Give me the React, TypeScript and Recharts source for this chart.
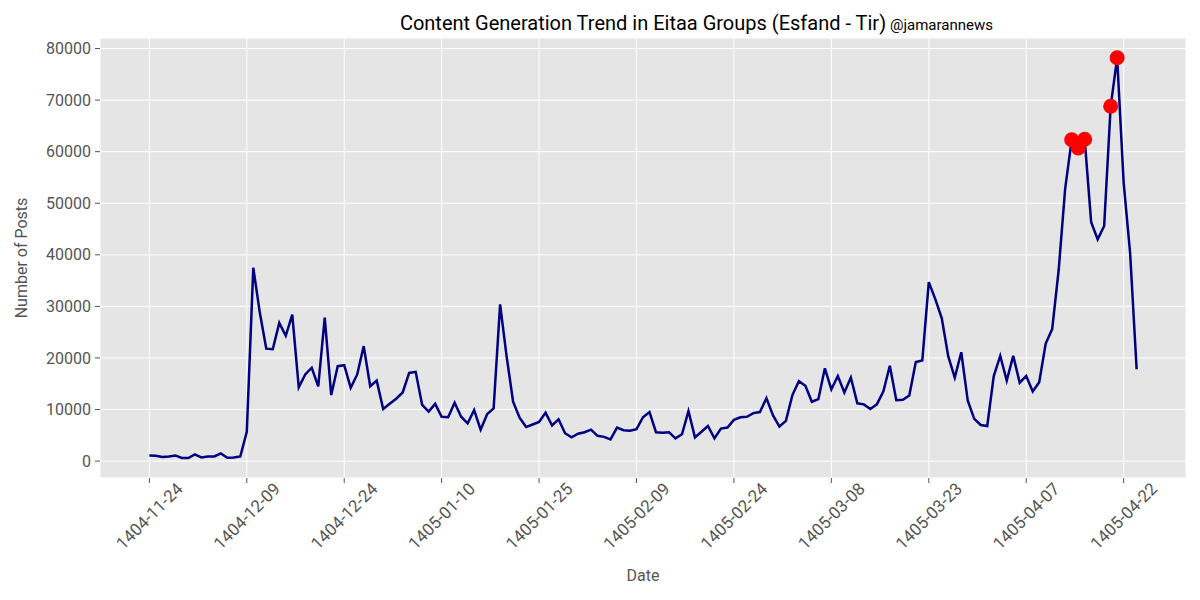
import React from 'react';
import { ComposedChart, Line, XAxis, YAxis, CartesianGrid } from 'recharts';

// Daily post counts, starting 1404-11-24 (one value per day)
const posts: number[] = [
  1100, 1050, 800, 900, 1100, 600, 600, 1300, 700, 900,
  900, 1500, 650, 700, 900, 5700, 37500, 28800, 21800, 21700,
  26800, 24300, 28400, 14300, 16800, 18100, 14500, 27800, 12800, 18400,
  18600, 14200, 16800, 22300, 14500, 15600, 10100, 11100, 12100, 13300,
  17100, 17300, 10900, 9600, 11100, 8600, 8500, 11300, 8600, 7300,
  9900, 6100, 9100, 10200, 30400, 20300, 11500, 8400, 6600, 7100,
  7600, 9400, 6900, 8100, 5400, 4600, 5300, 5600, 6100, 4900,
  4700, 4200, 6500, 6000, 5900, 6200, 8500, 9500, 5600, 5500,
  5600, 4400, 5200, 9700, 4600, 5700, 6800, 4400, 6300, 6500,
  8000, 8500, 8600, 9300, 9500, 12200, 8900, 6700, 7800, 12800,
  15500, 14600, 11500, 12000, 18000, 13900, 16500, 13300, 16200, 11200,
  11000, 10100, 11000, 13500, 18500, 11800, 11900, 12700, 19200, 19500,
  34700, 31400, 27700, 20300, 16200, 21100, 11700, 8200, 7000, 6800,
  16500, 20400, 15600, 20400, 15200, 16500, 13500, 15300, 22800, 25600,
  37100, 52900, 62300, 60700, 62400, 46300, 43000, 45600, 68800, 78200,
  54000, 40300, 17800,
];

// Days flagged as unusual spikes
const anomalyDays: number[] = [142, 143, 144, 148, 149];

// Date ticks every 15 days
const tickDays: number[] = [0, 15, 30, 45, 60, 75, 90, 105, 120, 135, 150];
const tickLabels: string[] = [
  '1404-11-24', '1404-12-09', '1404-12-24', '1405-01-10', '1405-01-25', '1405-02-09',
  '1405-02-24', '1405-03-08', '1405-03-23', '1405-04-07', '1405-04-22',
];
const yTicks: number[] = [0, 10000, 20000, 30000, 40000, 50000, 60000, 70000, 80000];

const data = posts.map((v, i) => ({
  day: i,
  posts: v,
  anomaly: anomalyDays.includes(i) ? v : null,
}));

const FONT = 'Roboto, "Open Sans", sans-serif';
const TICK_COLOR = '#555555';

const XTick = (props: any) => {
  const { x, y, payload } = props;
  const idx = tickDays.indexOf(payload.value);
  const label = idx >= 0 ? tickLabels[idx] : '';
  const cy = y + 31;
  return (
    <text
      x={x}
      y={cy}
      transform={`rotate(-45 ${x} ${cy})`}
      textAnchor="middle"
      dominantBaseline="central"
      fill={TICK_COLOR}
      fontSize={17}
      fontFamily={FONT}
    >
      {label}
    </text>
  );
};

const AnomalyDot = (p: any) => {
  if (p.value == null || p.cy == null || Number.isNaN(p.cy)) {
    return <g key={`a-${p.index}`} />;
  }
  return <circle key={`a-${p.index}`} cx={p.cx} cy={p.cy} r={7.5} fill="#FF0000" />;
};

export default function App() {
  return (
    <div style={{ position: 'absolute', left: 0, top: 0, width: 1200, height: 600, background: '#ffffff' }}>
      <ComposedChart
        width={1200}
        height={600}
        data={data}
        margin={{ top: 38, right: 14, left: 0, bottom: 0 }}
      >
        <CartesianGrid stroke="#ffffff" strokeWidth={1} fill="#E5E5E5" />
        <XAxis
          dataKey="day"
          type="number"
          domain={[-7.6, 159.6]}
          ticks={tickDays}
          interval={0}
          height={122}
          axisLine={false}
          tickLine={{ stroke: TICK_COLOR }}
          tickSize={5}
          tick={<XTick />}
        />
        <YAxis
          type="number"
          domain={[-3278, 82038]}
          ticks={yTicks}
          interval={0}
          width={100}
          axisLine={false}
          tickLine={{ stroke: TICK_COLOR }}
          tickSize={5}
          tickMargin={4}
          tick={{ fill: TICK_COLOR, fontSize: 16, fontFamily: FONT }}
        />
        <Line
          type="linear"
          dataKey="posts"
          stroke="#000080"
          strokeWidth={2.5}
          dot={false}
          activeDot={false}
          isAnimationActive={false}
        />
        <Line
          type="linear"
          dataKey="anomaly"
          stroke="none"
          dot={AnomalyDot}
          activeDot={false}
          connectNulls={false}
          isAnimationActive={false}
        />
      </ComposedChart>
      <svg
        width={1200}
        height={600}
        style={{ position: 'absolute', left: 0, top: 0, pointerEvents: 'none' }}
      >
        <text x={643} y={30} textAnchor="middle" fontSize={20} fontFamily={FONT} fill="#000000">
          Content Generation Trend in Eitaa Groups (Esfand - Tir)
        </text>
        <text x={890} y={30} textAnchor="start" fontSize={15} fontFamily={FONT} fill="#000000">
          @jamarannews
        </text>
        <text x={643} y={581} textAnchor="middle" fontSize={16} fontFamily={FONT} fill={TICK_COLOR}>
          Date
        </text>
        <text
          x={27}
          y={258}
          textAnchor="middle"
          transform="rotate(-90 27 258)"
          fontSize={16}
          fontFamily={FONT}
          fill={TICK_COLOR}
        >
          Number of Posts
        </text>
      </svg>
    </div>
  );
}
